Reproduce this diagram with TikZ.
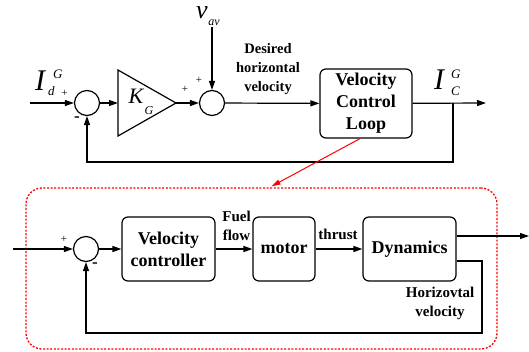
\documentclass[tikz,border=0pt]{standalone}
\usepackage{fontspec}
\setmainfont{Liberation Serif}[BoldFont={Liberation Serif Bold},ItalicFont={Liberation Serif Italic}]
\usetikzlibrary{arrows.meta}
\newcommand{\bigI}{\fontsize{30}{30}\selectfont\itshape I}
\newcommand{\smit}[1]{{\fontsize{13}{13}\selectfont\itshape #1}}
\begin{document}
\begin{tikzpicture}[x=1pt,y=-1pt,
  line/.style={line width=1.2pt},
  arr/.style={line, -{Triangle[length=9pt,width=6pt]}},
  sumnode/.style={circle, draw, line width=1.2pt, minimum size=25pt, inner sep=0pt},
  blk/.style={draw, line width=1.2pt, rounded corners=6pt, inner sep=0pt, align=center, font=\fontsize{18}{22}\selectfont\bfseries},
  lbl/.style={font=\fontsize{15}{19}\selectfont\bfseries, align=center, inner sep=0pt},
  sgn/.style={font=\fontsize{11}{11}\selectfont, inner sep=0pt},
  minus/.style={font=\fontsize{17}{17}\selectfont\bfseries, inner sep=0pt},
  smallit/.style={font=\fontsize{13}{13}\selectfont\itshape, inner sep=0pt},
  redframe/.style={draw=red, line width=1.3pt, dash pattern=on 2pt off 1.6pt, rounded corners=16pt},
  redarr/.style={draw=red, line width=1pt, -{Triangle[length=9pt,width=5pt]}}
  ]
\useasboundingbox (0,0) rectangle (529,351);

% ---------- top loop ----------
\coordinate (in1) at (30,103);
\node[sumnode] (s1) at (87,103) {};
\coordinate (kin) at (118,103);
\coordinate (kout) at (176,103);
\draw[line, line join=miter] (118,70) -- (kout) -- (118,136) -- cycle;
\node[font=\fontsize{22}{22}\selectfont\itshape, inner sep=0pt] (kgK) at (136,96) {K};
\node[smallit, font=\fontsize{12}{12}\selectfont\itshape] (kgG) at (149,111) {G};
\node[sumnode] (s2) at (212,103) {};
\coordinate (vav) at (212,27);
\node[blk, minimum width=92pt, minimum height=69pt] (vcl) at (366,103.5) {Velocity\\Control\\Loop};
\coordinate (out1) at (486,103);
\coordinate (br1) at (453,103);
\coordinate (fbc1) at (453,162);

\draw[arr] (in1) -- (s1);
\draw[arr] (s1) -- (kin);
\draw[arr] (kout) -- (s2);
\draw[arr] (vav) -- (s2);
\draw[arr] (s2) -- (vcl);
\draw[arr] (vcl) -- (out1);
\draw[arr] (br1) -- (fbc1) -| (s1.south);

% top labels
\node[inner sep=0pt, anchor=base west] (Id) at (35,90)
  {\bigI\kern3pt\raisebox{-5pt}{\smit{d}}\kern-1.5pt\raisebox{11.5pt}{\smit{G}}};
\node[sgn] (p1) at (64.5,93) {+};
\node[minus] (m1) at (77,119) {-};
\node[sgn] (p2) at (185,89) {+};
\node[sgn] (p3) at (199,80) {+};
\node[font=\fontsize{26}{26}\selectfont\itshape, inner sep=0pt] (vv) at (202,13) {v};
\node[smallit, font=\fontsize{12}{12}\selectfont\itshape] (vavl) at (214,23) {av};
\node[lbl, font=\fontsize{14.5}{19}\selectfont\bfseries] (des) at (268,69) {Desired\\horizontal\\velocity};
\node[inner sep=0pt, anchor=base west] (Ic) at (434,89)
  {\bigI\kern7pt\raisebox{-6pt}{\smit{C}}\kern-8.7pt\raisebox{11pt}{\smit{G}}};

% ---------- bottom loop ----------
\node[redframe, minimum width=471pt, minimum height=161pt] (frame) at (261.5,268.5) {};
\draw[redarr] ([xshift=-6pt]vcl.south) -- ([xshift=10pt,yshift=1pt]frame.north);

\coordinate (in3) at (13,249);
\node[sumnode] (s3) at (86,249) {};
\node[blk, minimum width=93pt, minimum height=64pt] (vc) at (168.5,249) {Velocity\\controller};
\node[blk, minimum width=62pt, minimum height=64pt] (mot) at (284,249) {motor};
\node[blk, minimum width=93pt, minimum height=64pt] (dyn) at (409.5,249) {Dynamics};
\coordinate (out2) at (529,236);
\coordinate (fb2a) at (482,261);
\coordinate (fb2b) at (482,333);

\draw[arr] (in3) -- (s3);
\draw[arr] (s3) -- (vc);
\draw[arr] (vc) -- (mot);
\draw[arr] (mot) -- (dyn);
\draw[arr] ([yshift=13pt]dyn.east) -- (out2);
\draw[arr] ([yshift=-12pt]dyn.east) -- (fb2a) -- (fb2b) -| (s3.south);

\node[sgn] (p4) at (64,239) {+};
\node[minus] (m4) at (95,265) {-};
\node[lbl] (fuel) at (236.5,225.5) {Fuel\\flow};
\node[lbl] (thr) at (338,234) {thrust};
\node[lbl] (hv) at (440,303.5) {Horizovtal\\velocity};
\end{tikzpicture}
\end{document}
